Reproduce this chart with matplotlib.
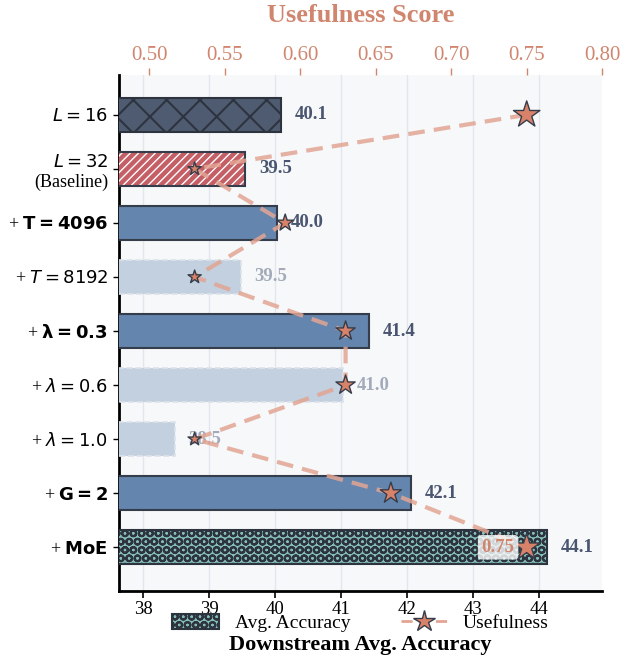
import numpy as np
import matplotlib
matplotlib.use("Agg")
import matplotlib.pyplot as plt
from matplotlib.patches import Patch
from matplotlib.lines import Line2D

plt.rcParams["font.family"] = ["Liberation Serif", "DejaVu Serif"]
plt.rcParams["mathtext.fontset"] = "dejavusans"
plt.rcParams["hatch.linewidth"] = 1.5

labels = [r"$L = 16$", "$L = 32$\n(Baseline)", r"+ $\mathbf{T = 4096}$",
          r"+ $T = 8192$", r"+ $\mathbf{\lambda = 0.3}$", r"+ $\lambda = 0.6$",
          r"+ $\lambda = 1.0$", r"+ $\mathbf{G = 2}$", r"+ $\mathbf{MoE}$"]
accuracy = [40.09, 39.55, 40.03, 39.48, 41.42, 41.03, 38.48, 42.06, 44.12]
acc_text = ["40.1", "39.5", "40.0", "39.5", "41.4", "41.0", "38.5", "42.1", "44.1"]
usefulness = [0.75, 0.53, 0.59, 0.53, 0.63, 0.63, 0.53, 0.66, 0.75]
faded = [False, False, False, True, False, True, True, False, False]

dark_edge = "#363d4a"
blue = "#6385ae"
faded_blue = "#c2d0e0"
teal = "#85bfb8"
star_face = "#d9826a"
line_col = "#e2a593"
top_col = "#d0856e"


def main():
    fig = plt.figure(figsize=(6.24, 6.56), dpi=100)
    ax = fig.add_axes([0.191, 0.099, 0.774, 0.787])
    ax.set_facecolor("#f6f8fa")
    y = np.arange(len(labels))
    h = 0.63

    for i, (v, f) in enumerate(zip(accuracy, faded)):
        if i == 0:
            ax.barh(i, v - 30, left=30, height=h, color="#4f5b70",
                    edgecolor="#2d3440", hatch="x", linewidth=1.5, zorder=3)
        elif i == 1:
            # thinner white stripes on the baseline bar
            with plt.rc_context({"hatch.linewidth": 1.0}):
                ax.barh(i, v - 30, left=30, height=h, color="#c45f66",
                        edgecolor="white", hatch="////", linewidth=0,
                        zorder=3)
            ax.barh(i, v - 30, left=30, height=h, fill=False,
                    edgecolor=dark_edge, linewidth=1.5, zorder=3)
        elif i == 8:
            ax.barh(i, v - 30, left=30, height=h, color=teal,
                    edgecolor="#2d3440", hatch="OO", linewidth=1.5, zorder=3)
        elif f:
            ax.barh(i, v - 30, left=30, height=h, color=faded_blue,
                    edgecolor="#dde3ea", linewidth=1.2, linestyle="--",
                    zorder=3)
        else:
            ax.barh(i, v - 30, left=30, height=h, color=blue,
                    edgecolor=dark_edge, linewidth=1.5, zorder=3)
        ax.text(v + 0.21, i, acc_text[i], va="center", ha="left",
                fontsize=13.5, fontweight="bold",
                color="#a3abba" if f else "#4a5570", zorder=4)

    ax.set_xlim(37.64, 44.95)
    ax.set_ylim(8.81, -0.74)
    ax.set_yticks(y)
    ax.set_yticklabels(labels, fontsize=13)
    ax.set_xticks(np.arange(38, 45))
    ax.tick_params(axis="x", labelsize=13.5, length=5, width=1.2, pad=2)
    ax.tick_params(axis="y", length=4, width=1.0, pad=4)
    ax.grid(axis="x", color="#e3e6ec", linewidth=1.0, zorder=0)
    ax.set_axisbelow(True)
    for s in ["top", "right"]:
        ax.spines[s].set_visible(False)
    for s in ["left", "bottom"]:
        ax.spines[s].set_linewidth(2.0)
        ax.spines[s].set_color("black")

    ax2 = ax.twiny()
    ax2.set_xlim(0.48, 0.80)
    ax2.set_ylim(8.81, -0.74)
    for s in ax2.spines.values():
        s.set_visible(False)
    ax2.plot(usefulness, y, linestyle=(0, (4, 2.2)), color=line_col,
             linewidth=3, alpha=0.85, zorder=2)
    sizes = [(10 + (u - 0.53) / 0.22 * 10) ** 2 for u in usefulness]
    ax2.scatter(usefulness, y, s=sizes, marker="*", color=star_face,
                edgecolor=dark_edge, linewidth=1.0, zorder=5)
    ax2.text(usefulness[8] - 0.008, 8, "0.75", ha="right", va="center",
             fontsize=13.5, fontweight="bold", color=top_col, zorder=6,
             bbox=dict(boxstyle="round,pad=0.2", facecolor="white",
                       edgecolor="none", alpha=0.8))
    ax2.set_xticks(np.arange(0.50, 0.81, 0.05))
    ax2.set_xticklabels([f"{t:.2f}" for t in np.arange(0.50, 0.81, 0.05)])
    ax2.tick_params(axis="x", colors=top_col, labelsize=15, length=5,
                    width=1.0, pad=2)

    fig.text(0.578, 0.977, "Usefulness Score", ha="center", va="center",
             fontsize=19, fontweight="bold", color=top_col)
    fig.text(0.578, 0.017, "Downstream Avg. Accuracy", ha="center",
             va="center", fontsize=16, fontweight="bold")

    handles = [
        Patch(facecolor=teal, edgecolor="#2d3440", hatch="OO",
              linewidth=1.5),
        Line2D([0], [0], color=line_col, linestyle=(0, (4, 2.2)),
               linewidth=2, marker="*", markersize=16,
               markerfacecolor=star_face, markeredgecolor=dark_edge),
    ]
    fig.legend(handles, ["Avg. Accuracy", "Usefulness"], loc="center",
               bbox_to_anchor=(0.578, 0.05), ncol=2, frameon=False,
               fontsize=14, handlelength=2.4, handleheight=0.8,
               columnspacing=2.6, handletextpad=0.8, borderpad=0.1)

    fig.savefig("out.png", dpi=100)


if __name__ == "__main__":
    main()
